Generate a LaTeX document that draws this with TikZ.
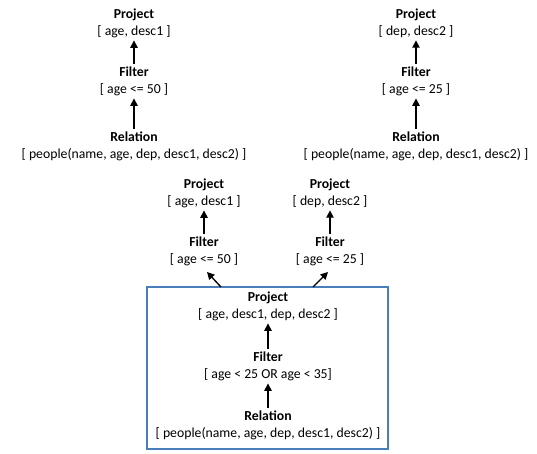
\documentclass[tikz,border=0pt]{standalone}
\usepackage{fontspec}
\setmainfont{Carlito}
\usetikzlibrary{arrows.meta}
\definecolor{boxblue}{HTML}{4A7EBB}
\tikzset{
  op/.style={align=center, inner sep=2pt, font=\fontsize{10.3}{12.75}\selectfont},
  arr/.style={-{Triangle[length=5.5pt,width=5.5pt]}, line width=1pt, black},
}
\begin{document}
\begin{tikzpicture}[x=0.75pt,y=-0.75pt]
\useasboundingbox (0,0) rectangle (537,454);
% left top tree
\node[op] (p1) at (134,23) {\textbf{Project}\\{[} age, desc1 ]};
\node[op] (f1) at (134,81) {\textbf{Filter}\\{[} age <= 50 ]};
\node[op] (r1) at (134,146) {\textbf{Relation}\\{[} people(name, age, dep, desc1, desc2) ]};
\draw[arr] (f1) -- (p1);
\draw[arr] (r1) -- (f1);
% right top tree
\node[op] (p2) at (416,23) {\textbf{Project}\\{[} dep, desc2 ]};
\node[op] (f2) at (416,81) {\textbf{Filter}\\{[} age <= 25 ]};
\node[op] (r2) at (416,146) {\textbf{Relation}\\{[} people(name, age, dep, desc1, desc2) ]};
\draw[arr] (f2) -- (p2);
\draw[arr] (r2) -- (f2);
% middle
\node[op] (p3) at (204,193) {\textbf{Project}\\{[} age, desc1 ]};
\node[op] (f3) at (204,251) {\textbf{Filter}\\{[} age <= 50 ]};
\draw[arr] (f3) -- (p3);
\node[op] (p4) at (330,193) {\textbf{Project}\\{[} dep, desc2 ]};
\node[op] (f4) at (330,251) {\textbf{Filter}\\{[} age <= 25 ]};
\draw[arr] (f4) -- (p4);
% box
\node[draw=boxblue, line width=0.8pt, minimum width=180.75pt, minimum height=121.5pt, inner sep=0pt] (box) at (267.5,368) {};
\node[op] (p5) at (268,306) {\textbf{Project}\\{[} age, desc1, dep, desc2 ]};
\node[op] (f5) at (268,366) {\textbf{Filter}\\{[} age < 25 OR age < 35]};
\node[op] (r5) at (268,425) {\textbf{Relation}\\{[} people(name, age, dep, desc1, desc2) ]};
\draw[arr] (f5) -- (p5);
\draw[arr] (r5) -- (f5);
\coordinate (t3) at (221,287);
\coordinate (h3) at (207,272);
\coordinate (t4) at (313,287);
\coordinate (h4) at (328,272);
\draw[arr] (t3) -- (h3);
\draw[arr] (t4) -- (h4);
\end{tikzpicture}
\end{document}
